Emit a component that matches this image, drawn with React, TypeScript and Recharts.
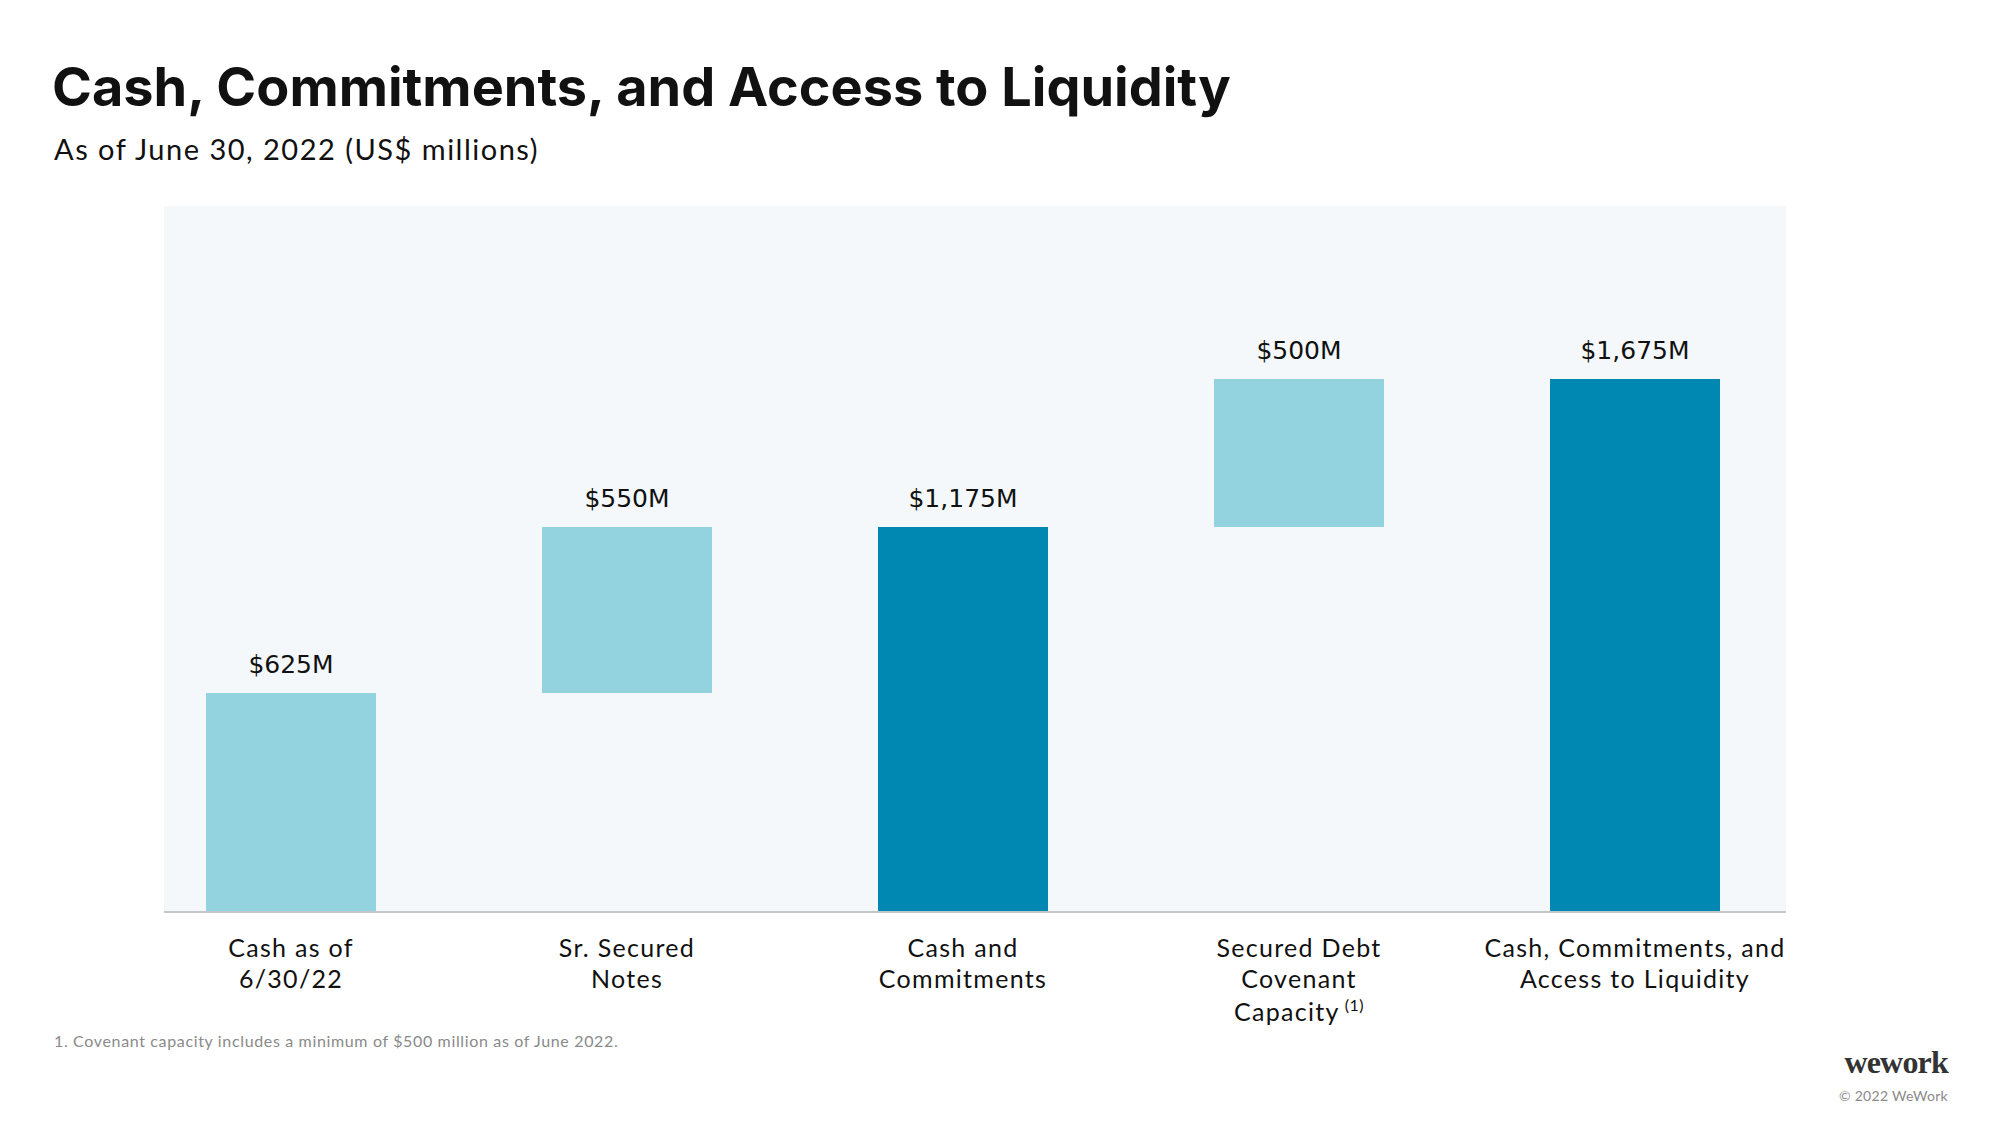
import { BarChart, Bar, XAxis, YAxis, Cell, LabelList } from "recharts";

// categories (line breaks as in the slide, "^" marks the footnote ref)
const categories = [
  "Cash as of\n6/30/22",
  "Sr. Secured\nNotes",
  "Cash and\nCommitments",
  "Secured Debt\nCovenant\nCapacity^(1)",
  "Cash, Commitments, and\nAccess to Liquidity",
];
// printed values
const valueLabels = ["$625M", "$550M", "$1,175M", "$500M", "$1,675M"];
// bar bottoms / heights as drawn on the slide (bars are not to scale with labels)
const bases = [0, 686, 0, 1209, 0];
const steps = [686, 523, 1209, 466, 1675];
const kinds = ["step", "step", "total", "step", "total"];

const LIGHT = "#93d3df";
const DARK = "#0088b3";
const FONT = "Lato, 'Noto Sans', sans-serif";

const data = categories.map((c, i) => ({
  name: c,
  base: bases[i],
  step: steps[i],
  label: valueLabels[i],
  kind: kinds[i],
}));

const CategoryTick = (props: any) => {
  const { x, y, payload } = props;
  const lines: string[] = String(payload.value).split("\n");
  return (
    <text
      x={x}
      y={y}
      textAnchor="middle"
      fill="#111"
      fontFamily={FONT}
      fontSize={25}
      letterSpacing={1.3}
    >
      {lines.map((ln, i) => {
        const [main, sup] = ln.split("^");
        const dy = i === 0 ? 38 : i === 2 ? 33 : 31;
        return (
          <tspan key={i} x={x} dy={dy}>
            {main}
            {sup && (
              <tspan fontSize={16} dy={-10} dx={5} letterSpacing={0.5}>
                {sup}
              </tspan>
            )}
          </tspan>
        );
      })}
    </text>
  );
};

export default function App() {
  return (
    <div
      style={{
        position: "absolute",
        left: 0,
        top: 0,
        width: 2000,
        height: 1125,
        background: "#fff",
        fontFamily: FONT,
        overflow: "hidden",
      }}
    >
      <div
        style={{
          position: "absolute",
          left: 52,
          top: 54,
          fontFamily: "Inter, sans-serif",
          fontWeight: 700,
          fontSize: 54,
          color: "#111",
          whiteSpace: "nowrap",
        }}
      >
        Cash, Commitments, and Access to Liquidity
      </div>
      <div
        style={{
          position: "absolute",
          left: 54,
          top: 131,
          fontSize: 29,
          color: "#111",
          whiteSpace: "nowrap",
          letterSpacing: 1.5,
        }}
      >
        As of June 30, 2022 (US$ millions)
      </div>

      {/* plot background + baseline */}
      <div
        style={{
          position: "absolute",
          left: 164,
          top: 206,
          width: 1622,
          height: 705,
          background: "#f4f8fa",
          borderBottom: "2px solid #c4c7ca",
        }}
      />

      <div style={{ position: "absolute", left: 0, top: 0 }}>
        <BarChart
          width={2000}
          height={1125}
          data={data}
          margin={{ top: 379, right: 197, bottom: 184, left: 123 }}
        >
          <XAxis
            dataKey="name"
            axisLine={false}
            tickLine={false}
            interval={0}
            height={30}
            tick={<CategoryTick />}
          />
          <YAxis hide domain={[0, 1675]} />
          <Bar
            dataKey="base"
            stackId="a"
            fill="transparent"
            barSize={170}
            isAnimationActive={false}
          />
          <Bar dataKey="step" stackId="a" barSize={170} isAnimationActive={false}>
            {data.map((d, i) => (
              <Cell key={i} fill={d.kind === "total" ? DARK : LIGHT} />
            ))}
            <LabelList
              dataKey="label"
              position="top"
              offset={20}
              fill="#111"
              fontSize={25}
              fontFamily="'DejaVu Sans', sans-serif"
            />
          </Bar>
        </BarChart>
      </div>

      <div
        style={{
          position: "absolute",
          left: 54,
          top: 1031,
          fontSize: 16,
          letterSpacing: 0.65,
          color: "#8a8a8a",
          whiteSpace: "nowrap",
        }}
      >
        1. Covenant capacity includes a minimum of $500 million as of June 2022.
      </div>
      <div
        style={{
          position: "absolute",
          right: 52,
          top: 1044,
          fontFamily: "'Liberation Serif', serif",
          fontWeight: 700,
          fontSize: 32,
          letterSpacing: -0.8,
          color: "#333",
        }}
      >
        wework
      </div>
      <div
        style={{
          position: "absolute",
          right: 52,
          top: 1087,
          fontSize: 14,
          letterSpacing: 0.3,
          color: "#8a8a8a",
          whiteSpace: "nowrap",
        }}
      >
        © 2022 WeWork
      </div>
    </div>
  );
}
